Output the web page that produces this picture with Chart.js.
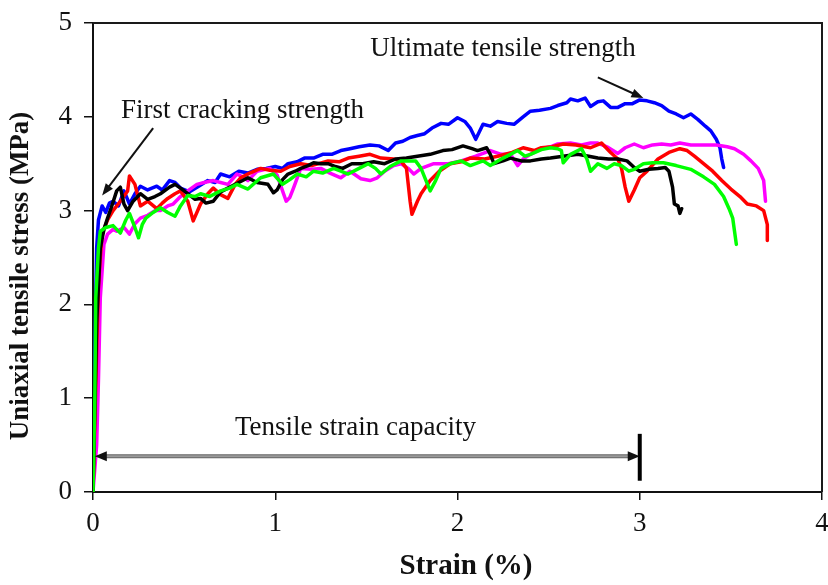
<!DOCTYPE html>
<html>
<head>
<meta charset="utf-8">
<script src="https://cdn.jsdelivr.net/npm/chart.js@4/dist/chart.umd.min.js"></script>
<style>
html,body{margin:0;padding:0;background:#fff;}
#wrap{width:828px;height:585px;}
</style>
</head>
<body>
<div id="wrap"><canvas id="c" width="828" height="585"></canvas></div>
<script>
// ---- Data (strain %, stress MPa) ----
const xTicks = [0, 1, 2, 3, 4];
const yTicks = [0, 1, 2, 3, 4, 5];
const xTitle = 'Strain (%)';
const yTitle = 'Uniaxial tensile stress (MPa)';

const blue = [[0,0],[0.01,1.5],[0.02,2.6],[0.03,2.9],[0.05,3.05],[0.07,2.98],[0.09,3.08],[0.11,3.1],[0.14,3.05],[0.17,3.21],[0.2,3.07],[0.23,3.18],[0.26,3.26],[0.3,3.22],[0.35,3.26],[0.38,3.22],[0.42,3.32],[0.45,3.3],[0.48,3.24],[0.53,3.2],[0.58,3.26],[0.63,3.32],[0.67,3.3],[0.7,3.39],[0.75,3.36],[0.8,3.42],[0.85,3.4],[0.9,3.44],[0.95,3.45],[1.0,3.47],[1.04,3.45],[1.07,3.5],[1.12,3.52],[1.16,3.56],[1.21,3.56],[1.26,3.6],[1.31,3.6],[1.36,3.64],[1.41,3.66],[1.46,3.68],[1.52,3.7],[1.57,3.69],[1.62,3.64],[1.66,3.72],[1.7,3.74],[1.74,3.78],[1.78,3.8],[1.82,3.82],[1.86,3.88],[1.91,3.93],[1.95,3.92],[2.0,3.99],[2.04,3.95],[2.07,3.88],[2.1,3.76],[2.14,3.92],[2.18,3.9],[2.22,3.95],[2.27,3.93],[2.31,3.92],[2.36,4.0],[2.4,4.06],[2.45,4.07],[2.51,4.09],[2.55,4.12],[2.6,4.15],[2.62,4.19],[2.66,4.17],[2.7,4.2],[2.73,4.11],[2.77,4.16],[2.8,4.17],[2.84,4.1],[2.88,4.1],[2.92,4.14],[2.96,4.14],[3.0,4.18],[3.04,4.17],[3.08,4.15],[3.12,4.12],[3.16,4.06],[3.2,4.03],[3.24,3.99],[3.28,4.03],[3.32,3.97],[3.36,3.9],[3.39,3.85],[3.42,3.76],[3.44,3.67],[3.45,3.55],[3.46,3.46]];

const red = [[0,0],[0.02,1.5],[0.03,2.2],[0.04,2.5],[0.05,2.75],[0.08,2.9],[0.11,3.0],[0.15,3.1],[0.19,3.21],[0.2,3.37],[0.23,3.28],[0.26,3.05],[0.3,3.1],[0.35,3.02],[0.38,3.08],[0.41,3.13],[0.45,3.18],[0.48,3.21],[0.52,3.1],[0.55,2.89],[0.59,3.07],[0.63,3.18],[0.66,3.24],[0.7,3.17],[0.74,3.13],[0.78,3.28],[0.81,3.35],[0.86,3.4],[0.92,3.45],[0.97,3.43],[1.03,3.42],[1.08,3.47],[1.14,3.5],[1.2,3.48],[1.29,3.53],[1.35,3.52],[1.4,3.56],[1.46,3.58],[1.52,3.6],[1.58,3.56],[1.65,3.55],[1.69,3.53],[1.72,3.45],[1.74,3.1],[1.75,2.96],[1.78,3.1],[1.8,3.18],[1.85,3.32],[1.9,3.42],[1.96,3.5],[2.02,3.52],[2.07,3.56],[2.15,3.55],[2.22,3.58],[2.3,3.62],[2.36,3.67],[2.42,3.64],[2.46,3.67],[2.52,3.68],[2.58,3.71],[2.65,3.7],[2.73,3.67],[2.79,3.72],[2.84,3.62],[2.88,3.55],[2.9,3.45],[2.92,3.25],[2.94,3.1],[2.97,3.22],[3.0,3.35],[3.04,3.42],[3.1,3.55],[3.16,3.62],[3.22,3.66],[3.26,3.64],[3.3,3.58],[3.35,3.5],[3.4,3.42],[3.45,3.32],[3.5,3.23],[3.55,3.15],[3.59,3.07],[3.64,3.05],[3.68,3.0],[3.7,2.85],[3.7,2.68]];

const black = [[0,0],[0.02,1.8],[0.04,2.6],[0.06,2.8],[0.08,2.92],[0.1,3.03],[0.13,3.21],[0.15,3.25],[0.17,3.07],[0.19,3.0],[0.22,3.1],[0.26,3.18],[0.3,3.12],[0.34,3.15],[0.37,3.18],[0.42,3.25],[0.45,3.28],[0.48,3.24],[0.52,3.18],[0.56,3.12],[0.59,3.13],[0.62,3.08],[0.66,3.1],[0.7,3.2],[0.74,3.24],[0.8,3.3],[0.85,3.35],[0.9,3.3],[0.96,3.28],[0.99,3.19],[1.01,3.22],[1.04,3.33],[1.07,3.39],[1.11,3.42],[1.14,3.45],[1.18,3.48],[1.21,3.51],[1.25,3.5],[1.29,3.5],[1.33,3.47],[1.37,3.45],[1.42,3.5],[1.48,3.5],[1.54,3.52],[1.6,3.5],[1.66,3.55],[1.72,3.56],[1.78,3.58],[1.85,3.6],[1.92,3.64],[1.97,3.65],[2.03,3.69],[2.08,3.66],[2.11,3.64],[2.16,3.67],[2.18,3.6],[2.2,3.5],[2.25,3.53],[2.29,3.56],[2.35,3.53],[2.4,3.53],[2.46,3.55],[2.51,3.56],[2.58,3.58],[2.66,3.6],[2.72,3.58],[2.77,3.56],[2.83,3.55],[2.88,3.55],[2.93,3.53],[2.97,3.46],[3.0,3.42],[3.05,3.44],[3.1,3.45],[3.14,3.46],[3.16,3.42],[3.18,3.25],[3.19,3.07],[3.21,3.05],[3.22,2.97],[3.23,3.02]];

const magenta = [[0,0],[0.02,0.5],[0.03,1.2],[0.04,2.07],[0.06,2.64],[0.08,2.75],[0.11,2.8],[0.13,2.78],[0.17,2.82],[0.2,2.75],[0.23,2.86],[0.26,2.92],[0.3,2.95],[0.34,3.0],[0.37,3.0],[0.41,3.05],[0.44,3.07],[0.48,3.15],[0.52,3.21],[0.57,3.28],[0.61,3.3],[0.66,3.32],[0.7,3.3],[0.74,3.28],[0.79,3.39],[0.82,3.36],[0.85,3.32],[0.9,3.42],[0.97,3.45],[1.01,3.38],[1.04,3.21],[1.06,3.1],[1.08,3.14],[1.1,3.24],[1.14,3.45],[1.2,3.44],[1.25,3.45],[1.3,3.4],[1.36,3.35],[1.41,3.42],[1.47,3.34],[1.52,3.32],[1.56,3.35],[1.6,3.42],[1.65,3.48],[1.69,3.5],[1.73,3.45],[1.76,3.39],[1.8,3.45],[1.87,3.5],[1.95,3.5],[2.02,3.53],[2.1,3.58],[2.18,3.64],[2.24,3.6],[2.29,3.6],[2.33,3.48],[2.36,3.55],[2.4,3.6],[2.46,3.66],[2.51,3.68],[2.55,3.71],[2.62,3.72],[2.68,3.7],[2.73,3.72],[2.77,3.72],[2.82,3.68],[2.88,3.61],[2.92,3.67],[2.97,3.71],[3.02,3.67],[3.07,3.7],[3.12,3.71],[3.17,3.7],[3.22,3.72],[3.28,3.7],[3.35,3.7],[3.42,3.7],[3.48,3.68],[3.52,3.66],[3.57,3.6],[3.61,3.53],[3.65,3.45],[3.68,3.32],[3.69,3.1]];

const green = [[0,0],[0.01,1.0],[0.015,2.07],[0.03,2.6],[0.04,2.78],[0.07,2.82],[0.11,2.84],[0.13,2.8],[0.15,2.76],[0.18,2.9],[0.2,2.97],[0.23,2.82],[0.25,2.71],[0.27,2.85],[0.29,2.92],[0.33,2.98],[0.37,3.03],[0.41,2.98],[0.45,2.94],[0.48,3.05],[0.52,3.16],[0.56,3.15],[0.59,3.18],[0.64,3.15],[0.7,3.21],[0.75,3.24],[0.79,3.28],[0.85,3.23],[0.92,3.35],[0.99,3.39],[1.04,3.28],[1.08,3.33],[1.12,3.39],[1.17,3.36],[1.21,3.42],[1.26,3.4],[1.32,3.45],[1.36,3.42],[1.4,3.39],[1.46,3.45],[1.51,3.5],[1.55,3.45],[1.58,3.39],[1.63,3.47],[1.69,3.53],[1.77,3.53],[1.8,3.45],[1.85,3.21],[1.88,3.32],[1.91,3.45],[1.96,3.5],[2.02,3.53],[2.07,3.48],[2.14,3.53],[2.18,3.48],[2.25,3.56],[2.29,3.6],[2.33,3.64],[2.37,3.58],[2.4,3.6],[2.46,3.65],[2.51,3.67],[2.55,3.66],[2.57,3.64],[2.58,3.51],[2.62,3.6],[2.68,3.66],[2.71,3.55],[2.73,3.42],[2.77,3.5],[2.82,3.45],[2.86,3.5],[2.9,3.48],[2.94,3.42],[2.97,3.44],[3.02,3.5],[3.07,3.51],[3.13,3.51],[3.2,3.48],[3.28,3.44],[3.35,3.36],[3.41,3.28],[3.46,3.15],[3.49,3.02],[3.51,2.92],[3.52,2.78],[3.53,2.64]];

// Annotation contents (value-space anchors)
const annUltimate = {text: 'Ultimate tensile strength', x: 2.25, y: 4.72, from: [2.77, 4.42], to: [3.02, 4.2]};
const annFirst = {text: 'First cracking strength', x: 0.82, y: 4.06, from: [0.33, 3.88], to: [0.05, 3.16]};
const annCapacity = {text: 'Tensile strain capacity', x: 1.44, y: 0.68, from: 0.01, to: 3.0, level: 0.38, barLow: 0.12, barHigh: 0.62};

const toPts = a => a.map(p => ({x: p[0], y: p[1]}));
const SERIF = '"Liberation Serif", "Times New Roman", serif';

function arrowHead(ctx, x1, y1, x2, y2, len, wid) {
  const ang = Math.atan2(y2 - y1, x2 - x1);
  ctx.save();
  ctx.translate(x2, y2);
  ctx.rotate(ang);
  ctx.beginPath();
  ctx.moveTo(0, 0);
  ctx.lineTo(-len, -wid / 2);
  ctx.lineTo(-len, wid / 2);
  ctx.closePath();
  ctx.fill();
  ctx.restore();
}

const annotate = {
  id: 'annotate',
  afterDatasetsDraw(chart) {
    const {ctx, chartArea: ca, scales: {x, y}} = chart;
    ctx.save();
    // frame (top & right)
    ctx.strokeStyle = '#1a1a1a';
    ctx.lineWidth = 2;
    ctx.beginPath();
    ctx.moveTo(ca.left, ca.top);
    ctx.lineTo(ca.right, ca.top);
    ctx.lineTo(ca.right, ca.bottom);
    ctx.stroke();

    // axis titles (positioned as in the reference)
    ctx.fillStyle = '#111';
    ctx.textAlign = 'center';
    ctx.textBaseline = 'middle';
    ctx.font = 'bold 29px ' + SERIF;
    ctx.fillText(xTitle, 466, 567);
    ctx.save();
    ctx.font = 'bold 27px ' + SERIF;
    ctx.translate(21, 276);
    ctx.rotate(-Math.PI / 2);
    ctx.fillText(yTitle, 0, 0);
    ctx.restore();

    ctx.font = '27px ' + SERIF;
    [annUltimate, annFirst, annCapacity].forEach(a => {
      ctx.fillText(a.text, x.getPixelForValue(a.x), y.getPixelForValue(a.y));
    });

    // pointer arrows
    ctx.strokeStyle = '#111';
    ctx.fillStyle = '#111';
    ctx.lineWidth = 2;
    [annUltimate, annFirst].forEach(a => {
      const x1 = x.getPixelForValue(a.from[0]), y1 = y.getPixelForValue(a.from[1]);
      const x2 = x.getPixelForValue(a.to[0]), y2 = y.getPixelForValue(a.to[1]);
      const ang = Math.atan2(y2 - y1, x2 - x1);
      ctx.beginPath();
      ctx.moveTo(x1, y1);
      ctx.lineTo(x2 - 8 * Math.cos(ang), y2 - 8 * Math.sin(ang));
      ctx.stroke();
      arrowHead(ctx, x1, y1, x2, y2, 12, 9);
    });

    // capacity double arrow
    const yl = y.getPixelForValue(annCapacity.level);
    const xa = x.getPixelForValue(annCapacity.from), xb = x.getPixelForValue(annCapacity.to);
    ctx.strokeStyle = '#666';
    ctx.lineWidth = 4;
    ctx.beginPath();
    ctx.moveTo(xa + 10, yl);
    ctx.lineTo(xb - 10, yl);
    ctx.stroke();
    ctx.strokeStyle = '#9a9a9a';
    ctx.lineWidth = 2;
    ctx.beginPath();
    ctx.moveTo(xa + 10, yl);
    ctx.lineTo(xb - 10, yl);
    ctx.stroke();
    ctx.fillStyle = '#111';
    arrowHead(ctx, xb, yl, xa, yl, 12, 10);
    arrowHead(ctx, xa, yl, xb, yl, 12, 10);
    ctx.strokeStyle = '#000';
    ctx.lineWidth = 4;
    ctx.beginPath();
    ctx.moveTo(xb, y.getPixelForValue(annCapacity.barHigh));
    ctx.lineTo(xb, y.getPixelForValue(annCapacity.barLow));
    ctx.stroke();
    ctx.restore();
  }
};

const mk = (label, data, color, order) => ({
  label, data: toPts(data), borderColor: color, backgroundColor: color,
  borderWidth: 3.5, pointRadius: 0, tension: 0, fill: false, order,
  borderJoinStyle: 'round', borderCapStyle: 'round'
});

new Chart(document.getElementById('c'), {
  type: 'line',
  data: {
    datasets: [
      mk('Specimen 1', blue, '#0000ff', 4),
      mk('Specimen 2', red, '#ff0000', 2),
      mk('Specimen 3', black, '#000000', 1),
      mk('Specimen 4', magenta, '#ff00ff', 3),
      mk('Specimen 5', green, '#00ff00', 0)
    ]
  },
  options: {
    responsive: false,
    animation: false,
    events: [],
    layout: {padding: {top: 23, right: 6, left: 0, bottom: 0}},
    plugins: {legend: {display: false}, tooltip: {enabled: false}},
    scales: {
      x: {
        type: 'linear', min: 0, max: 4,
        afterFit: s => { s.height = 93; s.paddingLeft = 0; s.paddingRight = 0; },
        afterBuildTicks: s => { s.ticks = xTicks.map(v => ({value: v})); },
        border: {display: true, color: '#111', width: 2},
        grid: {drawOnChartArea: false, drawTicks: true, tickLength: 8, color: '#111', lineWidth: 1.5},
        ticks: {color: '#111', padding: 8, font: {family: SERIF, size: 27}, maxRotation: 0},
        title: {display: false, text: xTitle}
      },
      y: {
        type: 'linear', min: 0, max: 5,
        afterFit: s => { s.width = 93; s.paddingTop = 0; s.paddingBottom = 0; },
        afterBuildTicks: s => { s.ticks = yTicks.map(v => ({value: v})); },
        border: {display: true, color: '#111', width: 2},
        grid: {drawOnChartArea: false, drawTicks: true, tickLength: 9, color: '#111', lineWidth: 1.5},
        ticks: {color: '#111', padding: 12, font: {family: SERIF, size: 27}},
        title: {display: false, text: yTitle}
      }
    }
  },
  plugins: [annotate]
});
</script>
</body>
</html>
